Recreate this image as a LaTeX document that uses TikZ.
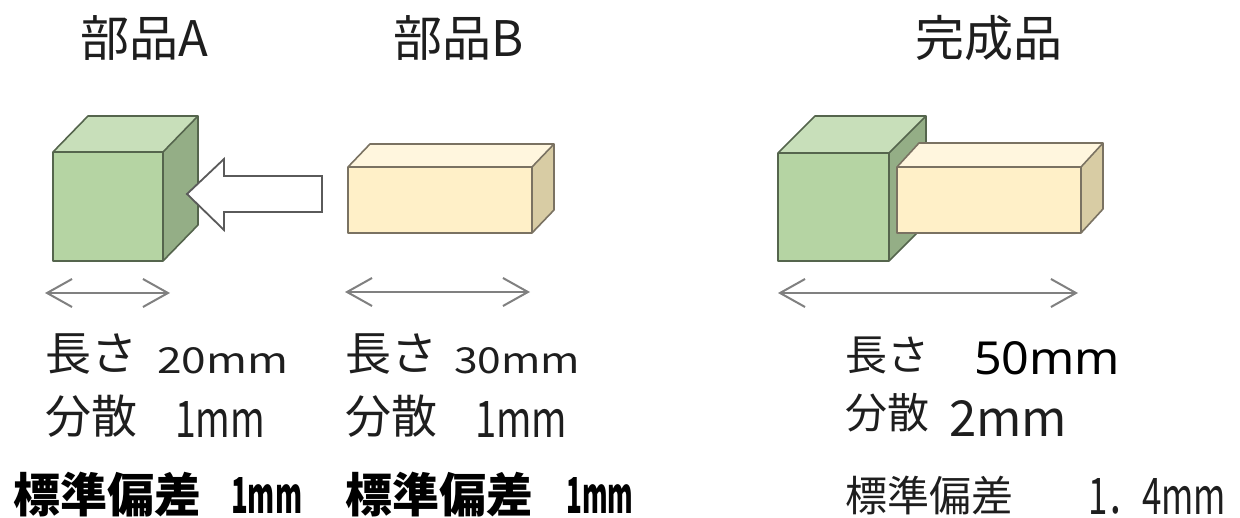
\documentclass[tikz,border=0pt]{standalone}
\usepackage{fontspec}
\newfontfamily\jp{Noto Sans CJK JP}
\newfontfamily\latn{Noto Sans}
\usetikzlibrary{arrows.meta}

\definecolor{txtgray}{HTML}{1E1E1E}
\definecolor{dimgray}{HTML}{808080}
\definecolor{grfront}{HTML}{B5D4A3}
\definecolor{grtop}{HTML}{C8DFBA}
\definecolor{grside}{HTML}{94AE86}
\definecolor{grline}{HTML}{55654D}
\definecolor{ylfront}{HTML}{FFF0C8}
\definecolor{yltop}{HTML}{FFF6DE}
\definecolor{ylside}{HTML}{D8CCA4}
\definecolor{ylline}{HTML}{7A7262}
\definecolor{arrline}{HTML}{5A5A5A}

% stretch a label to a given ink width and height (pt)
\newcommand\fitnum[3]{\resizebox{#1pt}{#2pt}{#3}}

% 3D block: front corner x1,y1 to x2,y2, depth dx,dy; colours front/top/side
\newcommand\blockthreed[9]{%
  \fill[#7] (#1,#2) rectangle (#3,#4);
  \fill[#8] (#1,#2) -- ({#1+#5},{#2-#6}) -- ({#3+#5},{#2-#6}) -- (#3,#2) -- cycle;
  \fill[#9] (#3,#2) -- ({#3+#5},{#2-#6}) -- ({#3+#5},{#4-#6}) -- (#3,#4) -- cycle;
  \draw[blockedge] (#1,#2) -- ({#1+#5},{#2-#6}) -- ({#3+#5},{#2-#6}) -- ({#3+#5},{#4-#6}) -- (#3,#4) -- (#1,#4) -- cycle
        (#1,#2) -- (#3,#2) -- (#3,#4) (#3,#2) -- ({#3+#5},{#2-#6});
}

\tikzset{
  blockedge/.style={line width=1.6pt, line join=round},
  greenedge/.style={blockedge/.style={line width=1.6pt, line join=round, draw=grline}},
  yellowedge/.style={blockedge/.style={line width=1.6pt, line join=round, draw=ylline}},
  title/.style={anchor=west, inner sep=0pt, text=txtgray, font={\jp\fontsize{49}{52}\selectfont}},
  lbl/.style={anchor=west, inner sep=0pt, text=txtgray, font={\jp\fontsize{46}{50}\selectfont}},
  lblr/.style={anchor=west, inner sep=0pt, text=txtgray, font={\jp\fontsize{42}{46}\selectfont}},
  lblb/.style={anchor=west, inner sep=0pt, text=black, font={\jp\bfseries\fontsize{47}{50}\selectfont}},
  num/.style={anchor=base west, inner sep=0pt, text=txtgray, font=\jp},
  numb/.style={anchor=base west, inner sep=0pt, text=black, font=\jp\bfseries},
  numblk/.style={anchor=base west, inner sep=0pt, text=black, font=\latn},
  dimline/.style={draw=dimgray, line width=2pt,
    {Straight Barb[length=25pt,width=28pt]}-{Straight Barb[length=25pt,width=28pt]}},
  pusharrow/.style={fill=white, draw=arrline, line width=1.8pt, line join=miter},
}

\begin{document}
\begin{tikzpicture}[x=1pt,y=-1pt]
  \useasboundingbox[fill=white] (0,0) rectangle (1240,518);

  % titles
  \node[title] (tA) at (80,38) {部品A};
  \node[title] (tB) at (393,38) {部品B};
  \node[title] (tC) at (915,38) {完成品};

  % part A: cube
  \begin{scope}[greenedge]
    \blockthreed{53}{152}{163}{261}{35}{36}{grfront}{grtop}{grside}
  \end{scope}

  % insertion arrow from B into A
  \draw[pusharrow] (187,194) -- (224,159) -- (224,176) -- (322,176) -- (322,212)
      -- (224,212) -- (224,230) -- cycle;

  % part B: bar
  \begin{scope}[yellowedge]
    \blockthreed{348}{167}{532}{233}{22}{23}{ylfront}{yltop}{ylside}
  \end{scope}

  % assembled product
  \begin{scope}[greenedge]
    \blockthreed{778}{153}{889}{261}{37}{37}{grfront}{grtop}{grside}
  \end{scope}
  \begin{scope}[yellowedge]
    \blockthreed{897}{167}{1081}{233}{22}{24}{ylfront}{yltop}{ylside}
  \end{scope}

  % length dimensions
  \coordinate (aL) at (45,293);  \coordinate (aR) at (170,293);
  \coordinate (bL) at (345,292); \coordinate (bR) at (530,292);
  \coordinate (cL) at (778,293); \coordinate (cR) at (1078,293);
  \draw[dimline] (aL) -- (aR);
  \draw[dimline] (bL) -- (bR);
  \draw[dimline] (cL) -- (cR);

  % part A figures
  \node[lbl] (lenA) at (45,354) {長さ};
  \node[num] (lenAv) at (157,374) {\fitnum{131}{26}{20mm}};
  \node[lbl] (varA) at (45,416) {分散};
  \node[num] (varAv) at (175,438) {\fitnum{90}{36}{1mm}};
  \node[lblb] (sdA) at (13,495) {標準偏差};
  \node[numb] (sdAv) at (231,513) {\fitnum{71}{36}{1mm}};

  % part B figures
  \node[lbl] (lenB) at (345,354) {長さ};
  \node[num] (lenBv) at (454,374) {\fitnum{126}{26}{30mm}};
  \node[lbl] (varB) at (345,416) {分散};
  \node[num] (varBv) at (475,438) {\fitnum{92}{36}{1mm}};
  \node[lblb] (sdB) at (345,495) {標準偏差};
  \node[numb] (sdBv) at (566,513) {\fitnum{67}{36}{1mm}};

  % assembled figures
  \node[lblr] (lenC) at (845,355) {長さ};
  \node[numblk] (lenCv) at (974,375) {\fitnum{146}{33}{50mm}};
  \node[lblr] (varC) at (845,413) {分散};
  \node[num] (varCv) at (949,436) {\fitnum{118}{36}{2mm}};
  \node[lblr] (sdC) at (845,495) {標準偏差};
  \node[num] (sdCv) at (1088,514) {\fitnum{138}{36}{1．4mm}};
\end{tikzpicture}
\end{document}
